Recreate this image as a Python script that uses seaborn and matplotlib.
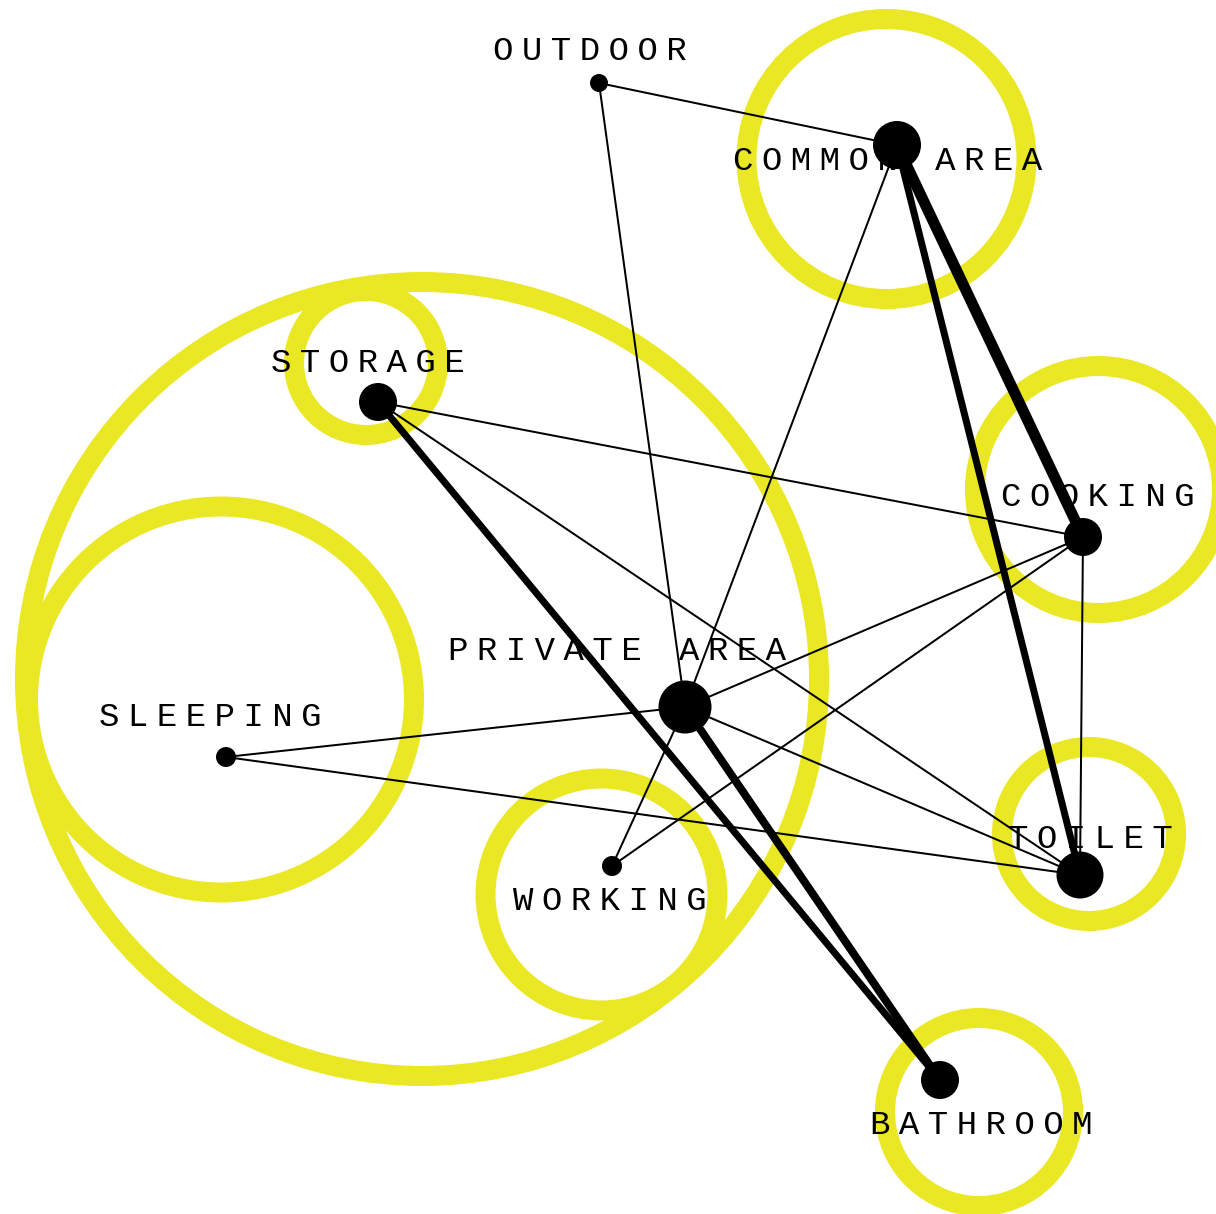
import numpy as np
import pandas as pd
import matplotlib
matplotlib.use("Agg")
import matplotlib.pyplot as plt
import seaborn as sns
from matplotlib.patches import Circle

# ---------------- data ----------------
node_names = ["OUTDOOR", "COMMON AREA", "STORAGE", "COOKING", "PRIVATE AREA",
              "SLEEPING", "WORKING", "TOILET", "BATHROOM"]
node_x = [599, 897, 378, 1083, 685, 226, 612, 1080, 940]
node_y = [83, 145, 402, 537, 707, 757, 866, 875, 1080]
node_r = [9, 24, 19, 19, 26.5, 10, 10, 23.5, 19]

label_x = [590, 888, 368, 1098, 617, 210, 610, 1090, 981]
label_y = [51, 162, 363, 497, 651, 717, 902, 840, 1126]

edge_src = ["OUTDOOR", "OUTDOOR", "COMMON AREA", "COMMON AREA", "COMMON AREA",
            "STORAGE", "STORAGE", "STORAGE", "COOKING", "COOKING", "COOKING",
            "PRIVATE AREA", "PRIVATE AREA", "PRIVATE AREA", "PRIVATE AREA", "SLEEPING"]
edge_dst = ["COMMON AREA", "PRIVATE AREA", "COOKING", "TOILET", "PRIVATE AREA",
            "COOKING", "TOILET", "BATHROOM", "PRIVATE AREA", "WORKING", "TOILET",
            "SLEEPING", "TOILET", "BATHROOM", "WORKING", "TOILET"]
edge_w = [1, 1, 5.5, 3.5, 1, 1, 1, 3.5, 1, 1, 1, 1, 1, 4, 1, 1]

group_names = ["PRIVATE AREA", "SLEEPING", "STORAGE", "WORKING",
               "COMMON AREA", "COOKING", "TOILET", "BATHROOM"]
group_x = [422, 221, 366, 601.5, 886.5, 1098.5, 1089, 979]
group_y = [679, 699.5, 363, 894.5, 159, 489.5, 834, 1112]
group_r = [397, 193, 72, 116, 140, 123.5, 87, 94]

YELLOW = "#EAE724"

# ---------------- figure ----------------
sns.set_style("white")
LABEL_FAMILY = ["Liberation Mono", "DejaVu Sans"]   # letters / letter-spacing glyph
plt.rcParams["font.family"] = LABEL_FAMILY
SPACER = "\u2005"   # four-per-em space (from DejaVu Sans) used as letter spacing

fig = plt.figure(figsize=(12.16, 12.14), dpi=100)
ax = fig.add_axes([0, 0, 1, 1])

PX = 0.72  # points per pixel at dpi 100

for gx, gy, gr in zip(group_x, group_y, group_r):
    ax.add_patch(Circle((gx, gy), gr, fill=False, ec=YELLOW, lw=20 * PX, zorder=1))

for name, lx, ly in zip(node_names, label_x, label_y):
    ax.text(lx, ly, SPACER.join(name), ha="center", va="center",
            fontsize=24.5, color="black", zorder=2, family=LABEL_FAMILY)

pos = {n: (x, y) for n, x, y in zip(node_names, node_x, node_y)}
for s, d, w in zip(edge_src, edge_dst, edge_w):
    (x0, y0), (x1, y1) = pos[s], pos[d]
    ax.plot([x0, x1], [y0, y1], color="black", lw=2 * w * PX,
            solid_capstyle="butt", zorder=3)

nodes = pd.DataFrame({"name": node_names, "x": node_x, "y": node_y,
                      "area": [(2 * r * PX) ** 2 for r in node_r]})
sns.scatterplot(data=nodes, x="x", y="y", size="area",
                sizes=(nodes["area"].min(), nodes["area"].max()),
                color="black", linewidth=0, legend=False, ax=ax, zorder=4)
ax.set_xlim(0, 1216)
ax.set_ylim(1214, 0)
ax.axis("off")

fig.savefig("out.png", dpi=100, facecolor="white")
